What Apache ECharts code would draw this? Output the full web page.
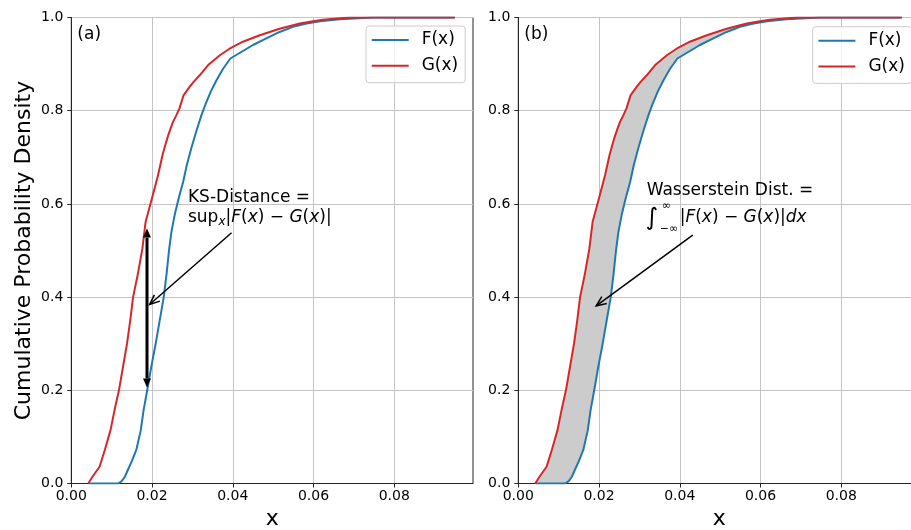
<!DOCTYPE html>
<html><head><meta charset="utf-8">
<script src="https://cdn.jsdelivr.net/npm/echarts@6/dist/echarts.min.js"></script>
<style>html,body{margin:0;padding:0;background:#fff}#c{width:911px;height:530px}</style>
</head><body><div id="c"></div>
<script>
// ---------------- data ----------------
const xTicks = [0, 0.02, 0.04, 0.06, 0.08];
const yTicks = [0, 0.2, 0.4, 0.6, 0.8, 1.0];
const seriesNames = ['F(x)', 'G(x)'];
const panelLabels = ['(a)', '(b)'];
const xAxisTitle = 'x';
const yAxisTitle = 'Cumulative Probability Density';

// F(x): blue empirical CDF
const F_x = [0.0043, 0.0116, 0.0125, 0.0133, 0.0140, 0.0150, 0.0161, 0.0172, 0.0179, 0.0188,
             0.0198, 0.0209, 0.0219, 0.0229, 0.0236, 0.0242, 0.0248, 0.0256, 0.0266, 0.0277,
             0.0286, 0.0297, 0.0310, 0.0323, 0.0333, 0.0346, 0.0360, 0.0376, 0.0394, 0.0421,
             0.0450, 0.0483, 0.0516, 0.0549, 0.0583, 0.0616, 0.0665, 0.0747, 0.0950];
const F_y = [0, 0, 0.005, 0.015, 0.029, 0.048, 0.072, 0.114, 0.157, 0.200,
             0.250, 0.300, 0.350, 0.400, 0.450, 0.500, 0.540, 0.576, 0.612, 0.647,
             0.683, 0.719, 0.757, 0.792, 0.815, 0.842, 0.866, 0.890, 0.912, 0.926,
             0.941, 0.955, 0.969, 0.980, 0.987, 0.992, 0.996, 1.0, 1.0];
// G(x): red empirical CDF
const G_x = [0.0042, 0.0052, 0.0070, 0.0083, 0.0097, 0.0107, 0.0118, 0.0128, 0.0138, 0.0146,
             0.0153, 0.0165, 0.0176, 0.0184, 0.0196, 0.0202, 0.0215, 0.0226, 0.0233, 0.0240,
             0.0246, 0.0252, 0.0260, 0.0268, 0.0273, 0.0278, 0.0293, 0.0303, 0.0318, 0.0339,
             0.0368, 0.0392, 0.0425, 0.0467, 0.0516, 0.0566, 0.0599, 0.0623, 0.0690, 0.0950];
const G_y = [0, 0.014, 0.036, 0.072, 0.114, 0.157, 0.200, 0.250, 0.300, 0.350,
             0.400, 0.450, 0.504, 0.561, 0.600, 0.619, 0.662, 0.705, 0.727, 0.747,
             0.762, 0.776, 0.790, 0.805, 0.819, 0.833, 0.851, 0.862, 0.876, 0.898,
             0.919, 0.933, 0.948, 0.962, 0.976, 0.987, 0.992, 0.995, 1.0, 1.0];

// annotation anchors (data coordinates)
const ksArrowX = 0.01875, ksArrowLow = 0.206, ksArrowHigh = 0.547;
const ksTextPos = [0.0289, 0.613];
const ksPointerFrom = [0.0397, 0.538], ksPointerTo = [0.0194, 0.384];
const wsTextPos = [0.0318, 0.629];
const wsPointerFrom = [0.0432, 0.533], wsPointerTo = [0.0193, 0.381];
const panelLabelPos = [0.0015, 0.964];

// ---------------- styling ----------------
const FONT = 'DejaVu Sans';
const BLUE = '#1f77b4', RED = '#d62728';
const AX = '#262626', GRIDC = '#c4c4c4';
const X_MAX = 0.0995;

const F = F_x.map((x, i) => [x, F_y[i]]);
const G = G_x.map((x, i) => [x, G_y[i]]);

const grids = [
  {left: 71.3, top: 17.5, width: 401.7, height: 466, show: true, borderColor: AX, borderWidth: 1,
   containLabel: false, outerBoundsMode: 'none'},
  {left: 518.3, top: 17.5, width: 401.7, height: 466, show: true, borderColor: AX, borderWidth: 1,
   containLabel: false, outerBoundsMode: 'none'}
];

function xAxis(i) {
  return {
    gridIndex: i, type: 'value', min: 0, max: X_MAX, interval: 0.02,
    axisLine: {show: true, onZero: false, lineStyle: {color: AX, width: 1}},
    axisTick: {show: true, length: 4, customValues: xTicks, lineStyle: {color: AX, width: 1}},
    axisLabel: {customValues: xTicks, formatter: v => v.toFixed(2), fontFamily: FONT, fontSize: 14, color: '#000', margin: 6},
    splitLine: {show: true, lineStyle: {color: GRIDC, width: 1}},
    name: xAxisTitle, nameLocation: 'middle', nameGap: 22,
    nameTextStyle: {fontFamily: FONT, fontSize: 22, color: '#000'}
  };
}
function yAxis(i) {
  const a = {
    gridIndex: i, type: 'value', min: 0, max: 1, interval: 0.2,
    axisLine: {show: true, onZero: false, lineStyle: {color: AX, width: 1}},
    axisTick: {show: true, length: 4, lineStyle: {color: AX, width: 1}},
    axisLabel: {formatter: v => v.toFixed(1), fontFamily: FONT, fontSize: 14, color: '#000', margin: 8},
    splitLine: {show: true, lineStyle: {color: GRIDC, width: 1}}
  };
  if (i === 0) {
    a.name = yAxisTitle; a.nameLocation = 'middle'; a.nameGap = 36;
    a.nameTextStyle = {fontFamily: FONT, fontSize: 22, color: '#000'};
  }
  return a;
}

function legend(left, top) {
  return {
    data: seriesNames, orient: 'vertical', left: left, top: top,
    icon: 'rect', itemWidth: 37, itemHeight: 2, itemGap: 8.7,
    padding: [5.5, 7, 8.5, 5.7],
    backgroundColor: 'rgba(255,255,255,0.8)', borderColor: '#cccccc', borderWidth: 1, borderRadius: 3,
    selectedMode: false,
    textStyle: {fontFamily: FONT, fontSize: 17, color: '#000', lineHeight: 17, padding: [0, 0, 0, 8]}
  };
}

function lineSeries(name, data, color, gi) {
  return {
    type: 'line', name: name, data: data, xAxisIndex: gi, yAxisIndex: gi,
    showSymbol: false, symbol: 'none', smooth: false, z: 3, animation: false,
    lineStyle: {color: color, width: 2}, itemStyle: {color: color}
  };
}

function shaftAndHead(tip, from, len, halfW) {
  const dx = tip[0] - from[0], dy = tip[1] - from[1];
  const L = Math.hypot(dx, dy), ux = dx / L, uy = dy / L;
  const bx = tip[0] - ux * len, by = tip[1] - uy * len;
  return {base: [bx, by], p1: [bx - uy * halfW, by + ux * halfW], p2: [bx + uy * halfW, by - ux * halfW]};
}

function txt(x, y, text, rich, extra) {
  return {
    type: 'text',
    style: Object.assign({
      text: text, x: x, y: y, align: 'left', verticalAlign: 'middle',
      fontFamily: FONT, fontSize: 17, fill: '#000', rich: rich
    }, extra || {})
  };
}

const richMath = {
  n: {fontFamily: FONT, fontSize: 17, fill: '#000', color: '#000', lineHeight: 20},
  i: {fontFamily: FONT, fontSize: 17, fontStyle: 'italic', fill: '#000', color: '#000', lineHeight: 20},
  s: {fontFamily: FONT, fontSize: 12, fontStyle: 'italic', fill: '#000', color: '#000', verticalAlign: 'bottom', lineHeight: 14}
};

function renderA(params, api) {
  const ch = [];
  const pl = api.coord(panelLabelPos);
  ch.push(txt(pl[0], pl[1], panelLabels[0]));
  const lo = api.coord([ksArrowX, ksArrowLow]), hi = api.coord([ksArrowX, ksArrowHigh]);
  const hTop = shaftAndHead(hi, lo, 9, 4), hBot = shaftAndHead(lo, hi, 9, 4);
  ch.push({type: 'line', shape: {x1: hBot.base[0], y1: hBot.base[1], x2: hTop.base[0], y2: hTop.base[1]}, style: {stroke: '#000', lineWidth: 3}});
  ch.push({type: 'polygon', shape: {points: [hi, hTop.p1, hTop.p2]}, style: {fill: '#000'}});
  ch.push({type: 'polygon', shape: {points: [lo, hBot.p1, hBot.p2]}, style: {fill: '#000'}});
  const a0 = api.coord(ksPointerFrom), a1 = api.coord(ksPointerTo);
  const h = shaftAndHead(a1, a0, 10, 4.2);
  ch.push({type: 'line', shape: {x1: a0[0], y1: a0[1], x2: a1[0], y2: a1[1]}, style: {stroke: '#000', lineWidth: 1.5}});
  ch.push({type: 'polyline', shape: {points: [h.p1, a1, h.p2]}, style: {stroke: '#000', lineWidth: 1.5, fill: null}});
  const t = api.coord(ksTextPos);
  ch.push(txt(t[0], t[1], 'KS-Distance ='));
  ch.push(txt(t[0], t[1] + 19.7, '{n|sup}{s|x}{n||}{i|F}{n|(}{i|x}{n|) − }{i|G}{n|(}{i|x}{n|)|}', richMath));
  return {type: 'group', children: ch};
}

function renderB(params, api) {
  const ch = [];
  const pl = api.coord(panelLabelPos);
  ch.push(txt(pl[0], pl[1], panelLabels[1]));
  const a0 = api.coord(wsPointerFrom), a1 = api.coord(wsPointerTo);
  const h = shaftAndHead(a1, a0, 10, 4.2);
  ch.push({type: 'line', shape: {x1: a0[0], y1: a0[1], x2: a1[0], y2: a1[1]}, style: {stroke: '#000', lineWidth: 1.5}});
  ch.push({type: 'polyline', shape: {points: [h.p1, a1, h.p2]}, style: {stroke: '#000', lineWidth: 1.5, fill: null}});
  const t = api.coord(wsTextPos);
  ch.push(txt(t[0], t[1], 'Wasserstein Dist. ='));
  const y2 = t[1] + 27;
  ch.push(txt(t[0] - 1, y2 + 1, '∫', null, {fontSize: 24}));
  ch.push(txt(t[0] + 15, y2 - 11.5, '∞', null, {fontSize: 11}));
  ch.push(txt(t[0] + 13, y2 + 12, '−∞', null, {fontSize: 11}));
  ch.push(txt(t[0] + 33, y2, '{n||}{i|F}{n|(}{i|x}{n|) − }{i|G}{n|(}{i|x}{n|)|}{i|dx}', richMath));
  return {type: 'group', children: ch};
}

function renderFill(params, api) {
  const pts = G.map(p => api.coord(p)).concat(F.slice().reverse().map(p => api.coord(p)));
  return {type: 'polygon', shape: {points: pts}, style: {fill: '#cccccc', stroke: null}};
}

const option = {
  animation: false,
  backgroundColor: '#ffffff',
  grid: grids,
  xAxis: [xAxis(0), xAxis(1)],
  yAxis: [yAxis(0), yAxis(1)],
  legend: [legend(366, 26), legend(812.7, 26.7)],
  series: [
    {type: 'custom', name: 'fill', xAxisIndex: 1, yAxisIndex: 1, data: [[0.05, 0.5]], renderItem: renderFill, z: 1, silent: true},
    lineSeries(seriesNames[0], F, BLUE, 0),
    lineSeries(seriesNames[1], G, RED, 0),
    lineSeries(seriesNames[0], F, BLUE, 1),
    lineSeries(seriesNames[1], G, RED, 1),
    {type: 'custom', name: 'annA', xAxisIndex: 0, yAxisIndex: 0, data: [[0.05, 0.5]], renderItem: renderA, z: 5, silent: true},
    {type: 'custom', name: 'annB', xAxisIndex: 1, yAxisIndex: 1, data: [[0.05, 0.5]], renderItem: renderB, z: 5, silent: true}
  ]
};
const chart = echarts.init(document.getElementById('c'), null, {renderer: 'canvas'});
chart.setOption(option);
</script>
</body></html>
